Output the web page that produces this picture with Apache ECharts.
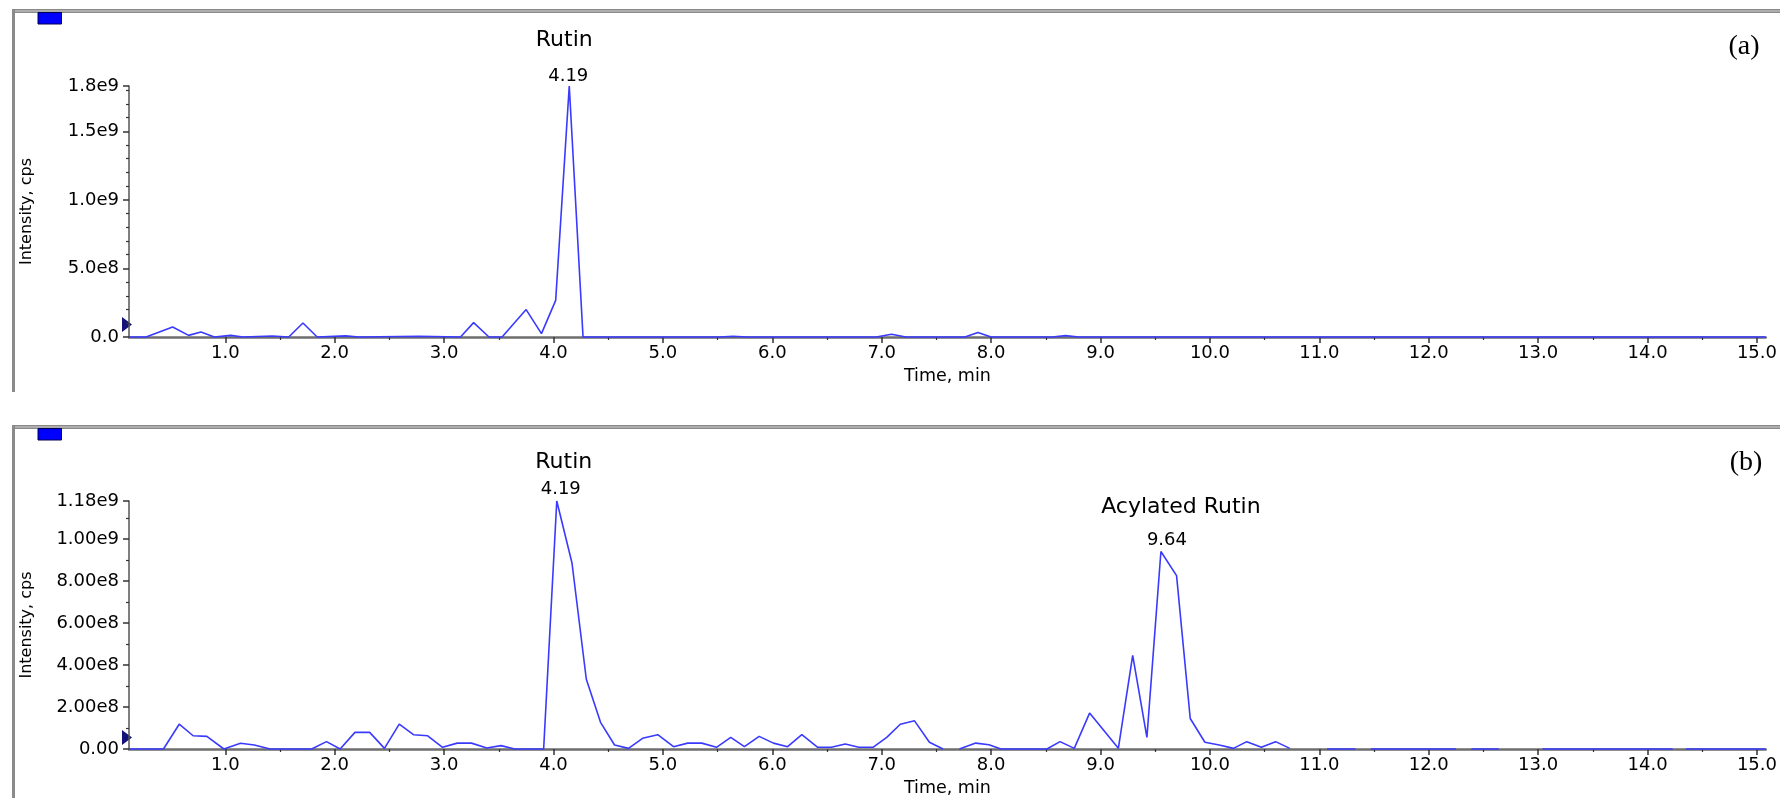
<!DOCTYPE html>
<html>
<head>
<meta charset="utf-8">
<script src="https://cdn.jsdelivr.net/npm/echarts@6/dist/echarts.min.js"></script>
<style>
html,body{margin:0;padding:0;background:#fff;}
#chart{width:1780px;height:798px;}
</style>
</head>
<body>
<div id="chart"></div>
<script>
// ---------------- DATA ----------------
// Panel (a): retention time (min) and intensity (cps)
const timeA = [0.12, 0.276, 0.519, 0.665, 0.778, 0.90, 1.05, 1.16, 1.43, 1.58, 1.71, 1.84, 2.10, 2.22, 2.77, 3.15, 3.27, 3.41, 3.53, 3.75, 3.89, 4.02, 4.144, 4.27, 5.52, 5.64, 5.77, 6.95, 7.09, 7.22, 7.76, 7.88, 8.00, 8.56, 8.68, 8.80, 15.08];
const intensityA = [0, 0, 7.3e7, 1.2e7, 3.6e7, 0, 1.2e7, 0, 7e6, 0, 1.02e8, 0, 8e6, 0, 5e6, 0, 1.05e8, 0, 0, 2.0e8, 2.5e7, 2.67e8, 1.83e9, 0, 0, 5e6, 0, 0, 2e7, 0, 0, 3.2e7, 0, 0, 1e7, 0, 0];

// Panel (b)
const timeB = [0.12, 0.435, 0.579, 0.706, 0.832, 0.987, 1.139, 1.265, 1.41, 1.79, 1.925, 2.05, 2.185, 2.32, 2.455, 2.59, 2.72, 2.85, 2.986, 3.12, 3.25, 3.39, 3.52, 3.646, 3.91, 4.03, 4.169, 4.30, 4.43, 4.558, 4.686, 4.814, 4.953, 5.097, 5.227, 5.355, 5.49, 5.62, 5.745, 5.88, 6.01, 6.14, 6.27, 6.415, 6.54, 6.667, 6.79, 6.92, 7.046, 7.17, 7.30, 7.436, 7.56, 7.63, 7.71, 7.86, 7.98, 8.09, 8.51, 8.63, 8.76, 8.90, 9.163, 9.294, 9.424, 9.552, 9.695, 9.82, 9.954, 10.085, 10.215, 10.337, 10.47, 10.60, 10.73, 10.90, 11.07, 11.33, 11.40, 11.47, 12.25, 12.32, 12.39, 12.64, 12.84, 13.04, 14.23, 14.29, 14.35, 15.08];
const intensityB = [0, 0, 1.18e8, 6.3e7, 6.0e7, 0, 2.7e7, 1.9e7, 0, 0, 3.5e7, 0, 7.9e7, 7.9e7, 3e6, 1.18e8, 6.8e7, 6.3e7, 8e6, 2.8e7, 2.8e7, 5e6, 1.6e7, 0, 0, 1.18e9, 8.85e8, 3.32e8, 1.27e8, 1.9e7, 3e6, 5.1e7, 6.8e7, 1.1e7, 2.8e7, 2.8e7, 8e6, 5.5e7, 1.1e7, 6e7, 2.8e7, 1.1e7, 6.8e7, 8e6, 8e6, 2.4e7, 8e6, 8e6, 5.5e7, 1.18e8, 1.34e8, 3.2e7, 0, null, 0, 2.8e7, 2e7, 0, 0, 3.5e7, 3e6, 1.71e8, 3e6, 4.45e8, 5.5e7, 9.4e8, 8.25e8, 1.45e8, 3.2e7, 1.9e7, 3e6, 3.5e7, 8e6, 3.5e7, 3e6, null, 0, 0, null, 0, 0, null, 0, 0, null, 0, 0, null, 0, 0];

// Axis ranges and tick labels
const xRange = [0.12, 15.08];
const xTickValues = [1, 2, 3, 4, 5, 6, 7, 8, 9, 10, 11, 12, 13, 14, 15];
const xTickLabels = ['1.0', '2.0', '3.0', '4.0', '5.0', '6.0', '7.0', '8.0', '9.0', '10.0', '11.0', '12.0', '13.0', '14.0', '15.0'];
const xMinorTickValues = [1.5, 2.5, 3.5, 4.5, 5.5, 6.5, 7.5, 8.5, 9.5, 10.5, 11.5, 12.5, 13.5, 14.5];

const yMaxA = 1.83e9;
const yTickValuesA = [0, 5e8, 1e9, 1.5e9, 1.83e9];
const yTickLabelsA = ['0.0', '5.0e8', '1.0e9', '1.5e9', '1.8e9'];
const yMinorTickValuesA = [1e8, 2e8, 3e8, 4e8, 6e8, 7e8, 8e8, 9e8, 1.1e9, 1.2e9, 1.3e9, 1.4e9, 1.6e9, 1.7e9, 1.8e9];

const yMaxB = 1.18e9;
const yTickValuesB = [0, 2e8, 4e8, 6e8, 8e8, 1e9, 1.18e9];
const yTickLabelsB = ['0.00', '2.00e8', '4.00e8', '6.00e8', '8.00e8', '1.00e9', '1.18e9'];
const yMinorTickValuesB = [1e8, 3e8, 5e8, 7e8, 9e8, 1.1e9];

// Peak annotations
const peakTimesA = [4.144];
const peakNamesA = ['Rutin'];
const peakRtA = ['4.19'];
const peakTimesB = [4.03, 9.552];
const peakNamesB = ['Rutin', 'Acylated Rutin'];
const peakRtB = ['4.19', '9.64'];

const panelTags = ['(a)', '(b)'];
const xAxisName = 'Time, min';
const yAxisName = 'Intensity, cps';

// ---------------- STYLE ----------------
const FONT = "'DejaVu Sans', Verdana, sans-serif";
const TEXT = '#000';
const LINE = '#3a3aff';

// label layout per peak (styles, not data)
const peakStyleA = [{dx: -1, dist: 0, nameLH: 52, namePad: [0, 8, 0, 0]}];
const peakStyleB = [
  {dx: 4, dist: 1.5, nameLH: 34, namePad: [0, 0, 0, 6]},
  {dx: 6, dist: 1, nameLH: 47, namePad: [0, 0, 0, 28]}
];

function buildData(times, values, peakTimes, names, rts, styles) {
  return times.map(function (t, i) {
    const v = values[i] === null ? '-' : values[i];
    const k = peakTimes.indexOf(t);
    if (k < 0) return [t, v];
    const s = styles[k];
    return {
      value: [t, v],
      label: {
        show: true, position: 'top', distance: s.dist, offset: [s.dx, 0],
        formatter: '{n|' + names[k] + '}\n{r|' + rts[k] + '}',
        rich: {
          n: {fontSize: 22, lineHeight: s.nameLH, fontFamily: FONT, color: TEXT, padding: s.namePad},
          r: {fontSize: 18, lineHeight: 20, fontFamily: FONT, color: TEXT}
        }
      }
    };
  });
}

function lookup(vals, labels) {
  return function (v) {
    for (let i = 0; i < vals.length; i++) {
      if (Math.abs(vals[i] - v) < 1e-6 * Math.max(1, Math.abs(v))) return labels[i];
    }
    return '';
  };
}

function makeXAxes(g) {
  return [{
    type: 'value', gridIndex: g, min: xRange[0], max: xRange[1], position: 'bottom',
    name: xAxisName, nameLocation: 'middle', nameGap: 30,
    nameTextStyle: {fontFamily: FONT, fontSize: 17.5, color: TEXT, verticalAlign: 'top'},
    axisLine: {show: true, onZero: false, lineStyle: {color: '#6e6e6e', width: 2.5}},
    axisTick: {show: true, customValues: xTickValues, length: 6, lineStyle: {color: '#333', width: 1.5}},
    axisLabel: {show: true, customValues: xTickValues, formatter: lookup(xTickValues, xTickLabels),
      margin: 7, fontFamily: FONT, fontSize: 18, color: TEXT},
    splitLine: {show: false}
  }, {
    type: 'value', gridIndex: g, min: xRange[0], max: xRange[1], position: 'bottom',
    axisLine: {show: false, onZero: false},
    axisTick: {show: true, customValues: xMinorTickValues, length: 3, lineStyle: {color: '#333', width: 1.2}},
    axisLabel: {show: false},
    splitLine: {show: false}
  }];
}

function makeYAxes(g, ymax, vals, labels, minor) {
  return [{
    type: 'value', gridIndex: g, min: 0, max: ymax, position: 'left',
    name: yAxisName, nameLocation: 'middle', nameGap: 94, nameRotate: 90,
    nameTextStyle: {fontFamily: FONT, fontSize: 16, color: TEXT},
    axisLine: {show: true, onZero: false, lineStyle: {color: '#555', width: 1.5}},
    axisTick: {show: true, customValues: vals, length: 6, lineStyle: {color: '#333', width: 1.5}},
    axisLabel: {show: true, customValues: vals, formatter: lookup(vals, labels),
      margin: 10, fontFamily: FONT, fontSize: 18, color: TEXT},
    splitLine: {show: false}
  }, {
    type: 'value', gridIndex: g, min: 0, max: ymax, position: 'left',
    axisLine: {show: false, onZero: false},
    axisTick: {show: true, customValues: minor, length: 3, lineStyle: {color: '#333', width: 1.2}},
    axisLabel: {show: false},
    splitLine: {show: false}
  }];
}

function makeSeries(xi, yi, data) {
  return {
    type: 'line', xAxisIndex: xi, yAxisIndex: yi, data: data,
    showSymbol: true, showAllSymbol: true, symbol: 'circle', symbolSize: 0,
    connectNulls: false, silent: true, clip: false,
    lineStyle: {color: LINE, width: 1.6},
    itemStyle: {color: LINE},
    emphasis: {disabled: true}
  };
}

// decorative frame pieces
function frameGraphics(top, bottom) {
  return [
    {type: 'rect', shape: {x: 12, y: top, width: 1768, height: 4}, style: {fill: '#8a8a8a'}, silent: true},
    {type: 'rect', shape: {x: 15, y: top + 1.5, width: 1765, height: 1}, style: {fill: '#cfcfcf'}, silent: true},
    {type: 'rect', shape: {x: 12, y: top, width: 3, height: bottom - top}, style: {fill: '#8a8a8a'}, silent: true},
    {type: 'rect', shape: {x: 38, y: top + 3.5, width: 23.5, height: 11.5}, style: {fill: '#0000ff', stroke: '#000050', lineWidth: 1}, silent: true}
  ];
}
function triangle(yc) {
  return {type: 'polygon', shape: {points: [[122, yc - 7.5], [132, yc], [122, yc + 7.5]]}, style: {fill: '#12127a'}, silent: true};
}
function tag(text, x, y) {
  return {type: 'text', x: x, y: y, style: {text: text, font: '28px "Liberation Serif", "Times New Roman", serif', fill: '#000', align: 'center', verticalAlign: 'middle'}, silent: true};
}

const chart = echarts.init(document.getElementById('chart'), null, {renderer: 'canvas'});
chart.setOption({
  animation: false,
  backgroundColor: '#fff',
  grid: [
    {left: 129, right: 12, top: 86, height: 251},
    {left: 129, right: 12, top: 501, height: 249}
  ],
  xAxis: makeXAxes(0).concat(makeXAxes(1)),
  yAxis: makeYAxes(0, yMaxA, yTickValuesA, yTickLabelsA, yMinorTickValuesA)
    .concat(makeYAxes(1, yMaxB, yTickValuesB, yTickLabelsB, yMinorTickValuesB)),
  series: [
    makeSeries(0, 0, buildData(timeA, intensityA, peakTimesA, peakNamesA, peakRtA, peakStyleA)),
    makeSeries(2, 2, buildData(timeB, intensityB, peakTimesB, peakNamesB, peakRtB, peakStyleB))
  ],
  graphic: [].concat(
    frameGraphics(9, 392),
    frameGraphics(425, 798),
    [triangle(324.5), triangle(737.5), tag(panelTags[0], 1744, 47), tag(panelTags[1], 1746, 463)]
  )
});
</script>
</body>
</html>
